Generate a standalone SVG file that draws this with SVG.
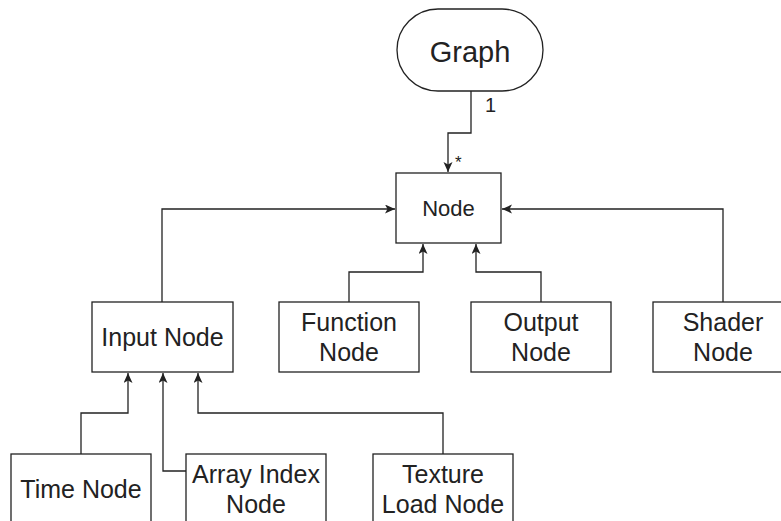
<svg xmlns="http://www.w3.org/2000/svg" width="781" height="521" viewBox="0 0 781 521">
<style>
.box{fill:#fff;stroke:#222;stroke-width:1.3}
.t{font-family:"Liberation Sans",Arial,sans-serif;font-size:25px;fill:#222;text-anchor:middle}
.c{fill:none;stroke:#222;stroke-width:1.3}
.lbl{font-family:"Liberation Sans",Arial,sans-serif;fill:#222}
</style>
<defs>
<marker id="arr" markerUnits="userSpaceOnUse" markerWidth="11" markerHeight="10" refX="10" refY="4.5" orient="auto">
<path d="M0,0 L10,4.5 L0,9 L2.5,4.5 Z" fill="#222"/>
</marker>
</defs>
<rect width="781" height="521" fill="#fff"/>
<g id="connectors">
<path class="c" d="M471,91 V133 H448 V172" marker-end="url(#arr)"/>
<path class="c" d="M162,302 V209 H395" marker-end="url(#arr)"/>
<path class="c" d="M723,302 V209 H502" marker-end="url(#arr)"/>
<path class="c" d="M349,302 V272 H423 V244" marker-end="url(#arr)"/>
<path class="c" d="M541,302 V272 H476 V244" marker-end="url(#arr)"/>
<path class="c" d="M81,454 V413 H128 V373" marker-end="url(#arr)"/>
<path class="c" d="M186,471 H163 V373" marker-end="url(#arr)"/>
<path class="c" d="M443,454 V413 H198 V373" marker-end="url(#arr)"/>
<text class="lbl" x="485" y="112" font-size="20">1</text>
<text class="lbl" x="455" y="168" font-size="17">*</text>
</g>
<g id="graph">
<rect class="box" x="397" y="9" width="146" height="82" rx="41" ry="41"/>
<text class="t" x="470" y="62" style="font-size:29px">Graph</text>
</g>
<g id="node">
<rect class="box" x="396" y="173" width="105" height="70"/>
<text class="t" x="448.5" y="216" style="font-size:22px">Node</text>
</g>
<g id="input-node">
<rect class="box" x="92" y="302" width="141" height="70"/>
<text class="t" x="162.5" y="346">Input Node</text>
</g>
<g id="function-node">
<rect class="box" x="279" y="302" width="140" height="70"/>
<text class="t" x="349" y="331">Function</text>
<text class="t" x="349" y="361">Node</text>
</g>
<g id="output-node">
<rect class="box" x="471" y="302" width="140" height="70"/>
<text class="t" x="541" y="331">Output</text>
<text class="t" x="541" y="361">Node</text>
</g>
<g id="shader-node">
<rect class="box" x="653" y="302" width="140" height="70"/>
<text class="t" x="723" y="331">Shader</text>
<text class="t" x="723" y="361">Node</text>
</g>
<g id="time-node">
<rect class="box" x="11" y="454" width="140" height="70"/>
<text class="t" x="81" y="498">Time Node</text>
</g>
<g id="array-index-node">
<rect class="box" x="186" y="454" width="140" height="70"/>
<text class="t" x="256" y="483">Array Index</text>
<text class="t" x="256" y="513">Node</text>
</g>
<g id="texture-load-node">
<rect class="box" x="373" y="454" width="140" height="70"/>
<text class="t" x="443" y="483">Texture</text>
<text class="t" x="443" y="513">Load Node</text>
</g>
</svg>
